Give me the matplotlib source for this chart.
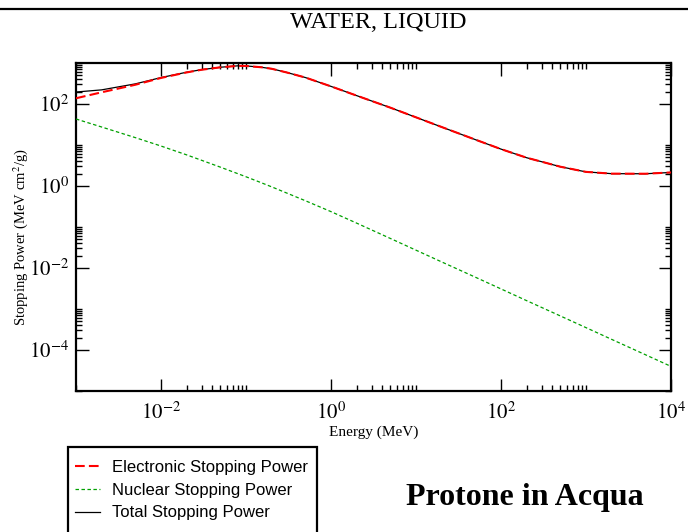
import matplotlib
matplotlib.use('Agg')
import matplotlib.pyplot as plt
from matplotlib.ticker import FixedLocator, FixedFormatter, NullFormatter
from matplotlib.patches import Rectangle
from matplotlib.lines import Line2D

plt.rcParams['font.family'] = ['Liberation Serif', 'DejaVu Serif']
plt.rcParams['mathtext.fontset'] = 'stix'
plt.rcParams['lines.scale_dashes'] = False

# proton in liquid water, stopping power (MeV cm^2/g)
energy = [1e-3, 2e-3, 5e-3, 1e-2, 2e-2, 3e-2, 5e-2, 8e-2, 1e-1, 1.5e-1, 2e-1, 3e-1, 5e-1,
          1, 2, 5, 10, 20, 50, 100, 200, 500, 1000, 2000, 5000, 10000]
electronic = [138, 193, 295, 432, 589, 684, 785, 851, 847, 789, 724, 589, 442,
              269, 160.3, 81.3, 47.3, 27.5, 13.5, 7.94, 4.90, 2.95, 2.21, 2.0, 1.99, 2.14]
nuclear = [43.1, 27.5, 15.1, 9.44, 5.75, 4.24, 2.88, 2.0, 1.68, 1.21, 0.955, 0.676, 0.437,
           0.237, 0.1245, 0.0525, 0.0272, 0.0141, 0.00596, 0.00309, 0.00160,
           6.76e-4, 3.51e-4, 1.82e-4, 7.67e-5, 3.98e-5]
total = [196, 221, 310, 441, 595, 688, 788, 853, 849, 790, 725, 590, 442,
         269, 160.4, 81.4, 47.3, 27.5, 13.5, 7.94, 4.90, 2.95, 2.21, 2.0, 1.99, 2.14]

xticks = [1e-2, 1e0, 1e2, 1e4]
xlabels = ['$10^{-2}$', '$10^{0}$', '$10^{2}$', '$10^{4}$']
yticks = [1e-4, 1e-2, 1e0, 1e2]
ylabels = ['$10^{-4}$', '$10^{-2}$', '$10^{0}$', '$10^{2}$']

fig = plt.figure(figsize=(6.88, 5.32), dpi=100)
ax = fig.add_axes([76/688, 1 - 391/532, 595/688, 328/532])

ax.plot(energy, total, color='black', lw=0.9, zorder=2, label='Total Stopping Power')
ax.plot(energy, electronic, color='red', lw=1.5, dashes=(7, 3), zorder=3,
        label='Electronic Stopping Power')
ax.plot(energy, nuclear, color='#00a000', lw=0.9, dashes=(2.5, 1.8), zorder=3,
        label='Nuclear Stopping Power')

ax.set_xscale('log')
ax.set_yscale('log')
ax.set_xlim(1e-3, 1e4)
ax.set_ylim(1e-5, 1e3)

def minors(majors):
    out = []
    for m in majors:
        for k in range(2, 11):
            out.append(k * m)
    return out

ax.xaxis.set_major_locator(FixedLocator(xticks))
ax.xaxis.set_major_formatter(FixedFormatter(xlabels))
ax.xaxis.set_minor_locator(FixedLocator(minors([1e-4] + xticks)))
ax.xaxis.set_minor_formatter(NullFormatter())
ax.yaxis.set_major_locator(FixedLocator(yticks))
ax.yaxis.set_major_formatter(FixedFormatter(ylabels))
ax.yaxis.set_minor_locator(FixedLocator(minors([1e-6] + yticks)))
ax.yaxis.set_minor_formatter(NullFormatter())

ax.tick_params(which='both', direction='in', top=True, right=True, width=1)
ax.tick_params(which='major', length=9, labelsize=15)
ax.tick_params(axis='x', which='major', pad=8)
ax.tick_params(axis='y', which='major', pad=5)
ax.tick_params(which='minor', length=4.5)
for s in ax.spines.values():
    s.set_linewidth(1.6)

ax.set_xlabel('Energy (MeV)', fontsize=11, labelpad=1)
ax.set_ylabel('Stopping Power (MeV cm$^2$/g)', fontsize=10.5)
ax.yaxis.set_label_coords(-0.078, 0.47)

fig.text(378/688, 1 - 22/532, 'WATER, LIQUID', fontsize=17.5, ha='center', va='center')
fig.add_artist(Line2D([0, 1], [1 - 9/532, 1 - 9/532], color='black', lw=1.6,
                      transform=fig.transFigure))

fig.text(525/688, 1 - 497/532, 'Protone in Acqua', fontsize=23, fontweight='bold',
         ha='center', va='center')

h, l = ax.get_legend_handles_labels()
order = [1, 2, 0]
fig.legend([h[i] for i in order], [l[i] for i in order], loc='upper left',
           bbox_to_anchor=(75/688, 1 - 460/532), frameon=False,
           prop={'family': 'Liberation Sans', 'size': 12},
           handlelength=1.5, handletextpad=0.72, labelspacing=0.46,
           borderpad=0, borderaxespad=0)
fig.add_artist(Rectangle((68/688, -0.05), 249/688, 0.05 + (532 - 447)/532,
                         fill=False, lw=1.6, edgecolor='black',
                         transform=fig.transFigure, clip_on=False))

fig.savefig('out.png', dpi=100)
